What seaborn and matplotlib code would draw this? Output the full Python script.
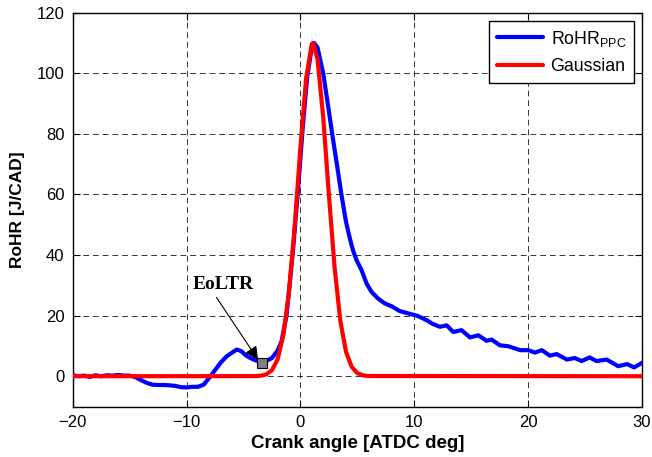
import numpy as np
import pandas as pd
import matplotlib
matplotlib.use("Agg")
import matplotlib.pyplot as plt
import seaborn as sns

# ---- data ----
rohr_x = [-20, -19.5, -19, -18.5, -18, -17.5, -17, -16.5, -16, -15.5, -15, -14.5, -14, -13.5,
          -13, -12.5, -12, -11.5, -11, -10.5, -10, -9.5, -9, -8.5, -8, -7.5, -7, -6.5, -6,
          -5.6, -5.2, -4.8, -4.4, -4.0, -3.4, -3.0, -2.5, -2.0, -1.66, -1.22, -0.64, -0.2,
          0.2, 0.6, 1.0, 1.2, 1.5, 2.0, 2.4, 2.79, 3.2, 3.6, 4.0, 4.34, 4.62, 4.93, 5.37,
          5.81, 6.25, 6.83, 7.42, 8.0, 8.73, 9.6, 10.3, 11.08, 11.6, 12.25, 12.84, 13.42,
          14.15, 14.89, 15.62, 16.35, 16.79, 17.52, 18.25, 19.3, 20.0, 20.6, 21.2, 21.9,
          22.5, 23.4, 24.1, 24.7, 25.4, 26.0, 26.9, 27.9, 28.7, 29.3, 30.0]
rohr_y = [0.3, 0.0, 0.2, -0.2, 0.3, 0.0, 0.3, 0.2, 0.4, 0.2, 0.2, -0.3, -1.3, -2.2,
          -2.8, -2.9, -2.9, -3.0, -3.2, -3.6, -3.7, -3.5, -3.5, -2.8, -0.5, 2.0, 4.5, 6.5, 7.8,
          8.8, 8.3, 6.9, 6.0, 5.3, 4.6, 5.0, 6.0, 8.5, 11.5, 20.0, 42.0, 62.0,
          82.0, 99.0, 108.5, 110.0, 108.5, 100.0, 90.0, 80.0, 70.0, 60.0, 51.0, 45.5, 41.5, 38.3, 35.0,
          30.6, 27.8, 25.6, 24.0, 23.1, 21.5, 20.6, 19.9, 18.5, 17.3, 16.3, 16.8, 14.6,
          15.2, 12.8, 13.5, 11.7, 12.1, 10.2, 9.9, 8.6, 8.6, 7.8, 8.6, 6.8,
          7.3, 5.5, 6.0, 5.0, 6.2, 5.0, 5.5, 3.3, 4.0, 2.9, 4.4]

gauss_x = [-20, -4.0, -3.5, -3.0, -2.5, -2.0, -1.5, -1.0, -0.5, 0.0, 0.5, 1.0, 1.1, 1.5,
           2.0, 2.5, 3.0, 3.5, 4.0, 4.5, 5.0, 5.5, 6.0, 30]
gauss_y = [0.0, 0.03, 0.16, 0.6, 2.0, 5.6, 13.5, 28.0, 49.7, 75.6, 98.4, 109.7, 110.0, 104.6,
           85.6, 59.9, 35.9, 18.4, 8.1, 3.1, 1.0, 0.27, 0.06, 0.0]

series_names = ["RoHR$_{\\mathrm{PPC}}$", "Gaussian"]
series_colors = ["#0000ff", "#ff0000"]

eoltr_x = [-3.41]
eoltr_y = [4.5]
eoltr_label = "EoLTR"

x_ticks = [-20, -10, 0, 10, 20, 30]
y_ticks = [0, 20, 40, 60, 80, 100, 120]

# ---- build long table ----
df = pd.concat([
    pd.DataFrame({"x": rohr_x, "y": rohr_y, "series": series_names[0]}),
    pd.DataFrame({"x": gauss_x, "y": gauss_y, "series": series_names[1]}),
], ignore_index=True)

sns.set_style("white")
plt.rcParams["font.family"] = ["Liberation Sans", "DejaVu Sans"]
plt.rcParams["mathtext.fontset"] = "custom"
plt.rcParams["mathtext.rm"] = "Liberation Sans"
plt.rcParams["text.color"] = "black"
plt.rcParams["axes.labelcolor"] = "black"
plt.rcParams["xtick.color"] = "black"
plt.rcParams["ytick.color"] = "black"

fig = plt.figure(figsize=(6.52, 4.57), dpi=100)
ax = fig.add_axes([0.1115, 0.1105, 0.8732, 0.8617])

sns.lineplot(data=df, x="x", y="y", hue="series", hue_order=series_names,
             palette=dict(zip(series_names, series_colors)), sort=False,
             estimator=None, linewidth=3, ax=ax, zorder=3)

# marker and annotation
ax.scatter(eoltr_x, eoltr_y, marker="s", s=48, facecolor="#808080",
           edgecolor="black", linewidth=0.8, zorder=5)
ax.text(-6.81, 30.3, eoltr_label, ha="center", va="center", fontsize=14,
        fontweight="bold", color="black",
        family=["Liberation Serif", "DejaVu Serif"], zorder=6)
ax.annotate("", xy=(-3.72, 5.4), xytext=(-7.37, 26.0),
            arrowprops=dict(arrowstyle="-|>", color="black", lw=0.8,
                            mutation_scale=20, shrinkA=0, shrinkB=0),
            zorder=6)

ax.set_xlim(-20, 30)
ax.set_ylim(-10, 120)
ax.set_xticks(x_ticks)
ax.set_yticks(y_ticks)
ax.tick_params(direction="in", length=5, width=0.8, labelsize=12,
               top=True, right=True, bottom=True, left=True, pad=6,
               colors="black", labelcolor="black")
for s in ax.spines.values():
    s.set_visible(True)
    s.set_color("black")
    s.set_linewidth(1.0)

ax.grid(True, color="black", linestyle=(0, (6, 4)), linewidth=0.7, alpha=0.8)
ax.set_axisbelow(True)

ax.set_xlabel("Crank angle [ATDC deg]", fontsize=13.5, fontweight="bold",
              labelpad=4, color="black")
ax.set_ylabel("RoHR [J/CAD]", fontsize=12.5, fontweight="bold",
              labelpad=8, color="black")

leg = ax.legend(loc="upper right", fontsize=12.8, handlelength=2.6, frameon=True,
                fancybox=False, framealpha=1, edgecolor="black", borderaxespad=0.45,
                handletextpad=0.4, borderpad=0.45, labelspacing=0.55)
leg.get_frame().set_linewidth(1.0)
for line in leg.get_lines():
    line.set_linewidth(3)
for t in leg.get_texts():
    t.set_color("black")

fig.savefig("out.png", dpi=100)
